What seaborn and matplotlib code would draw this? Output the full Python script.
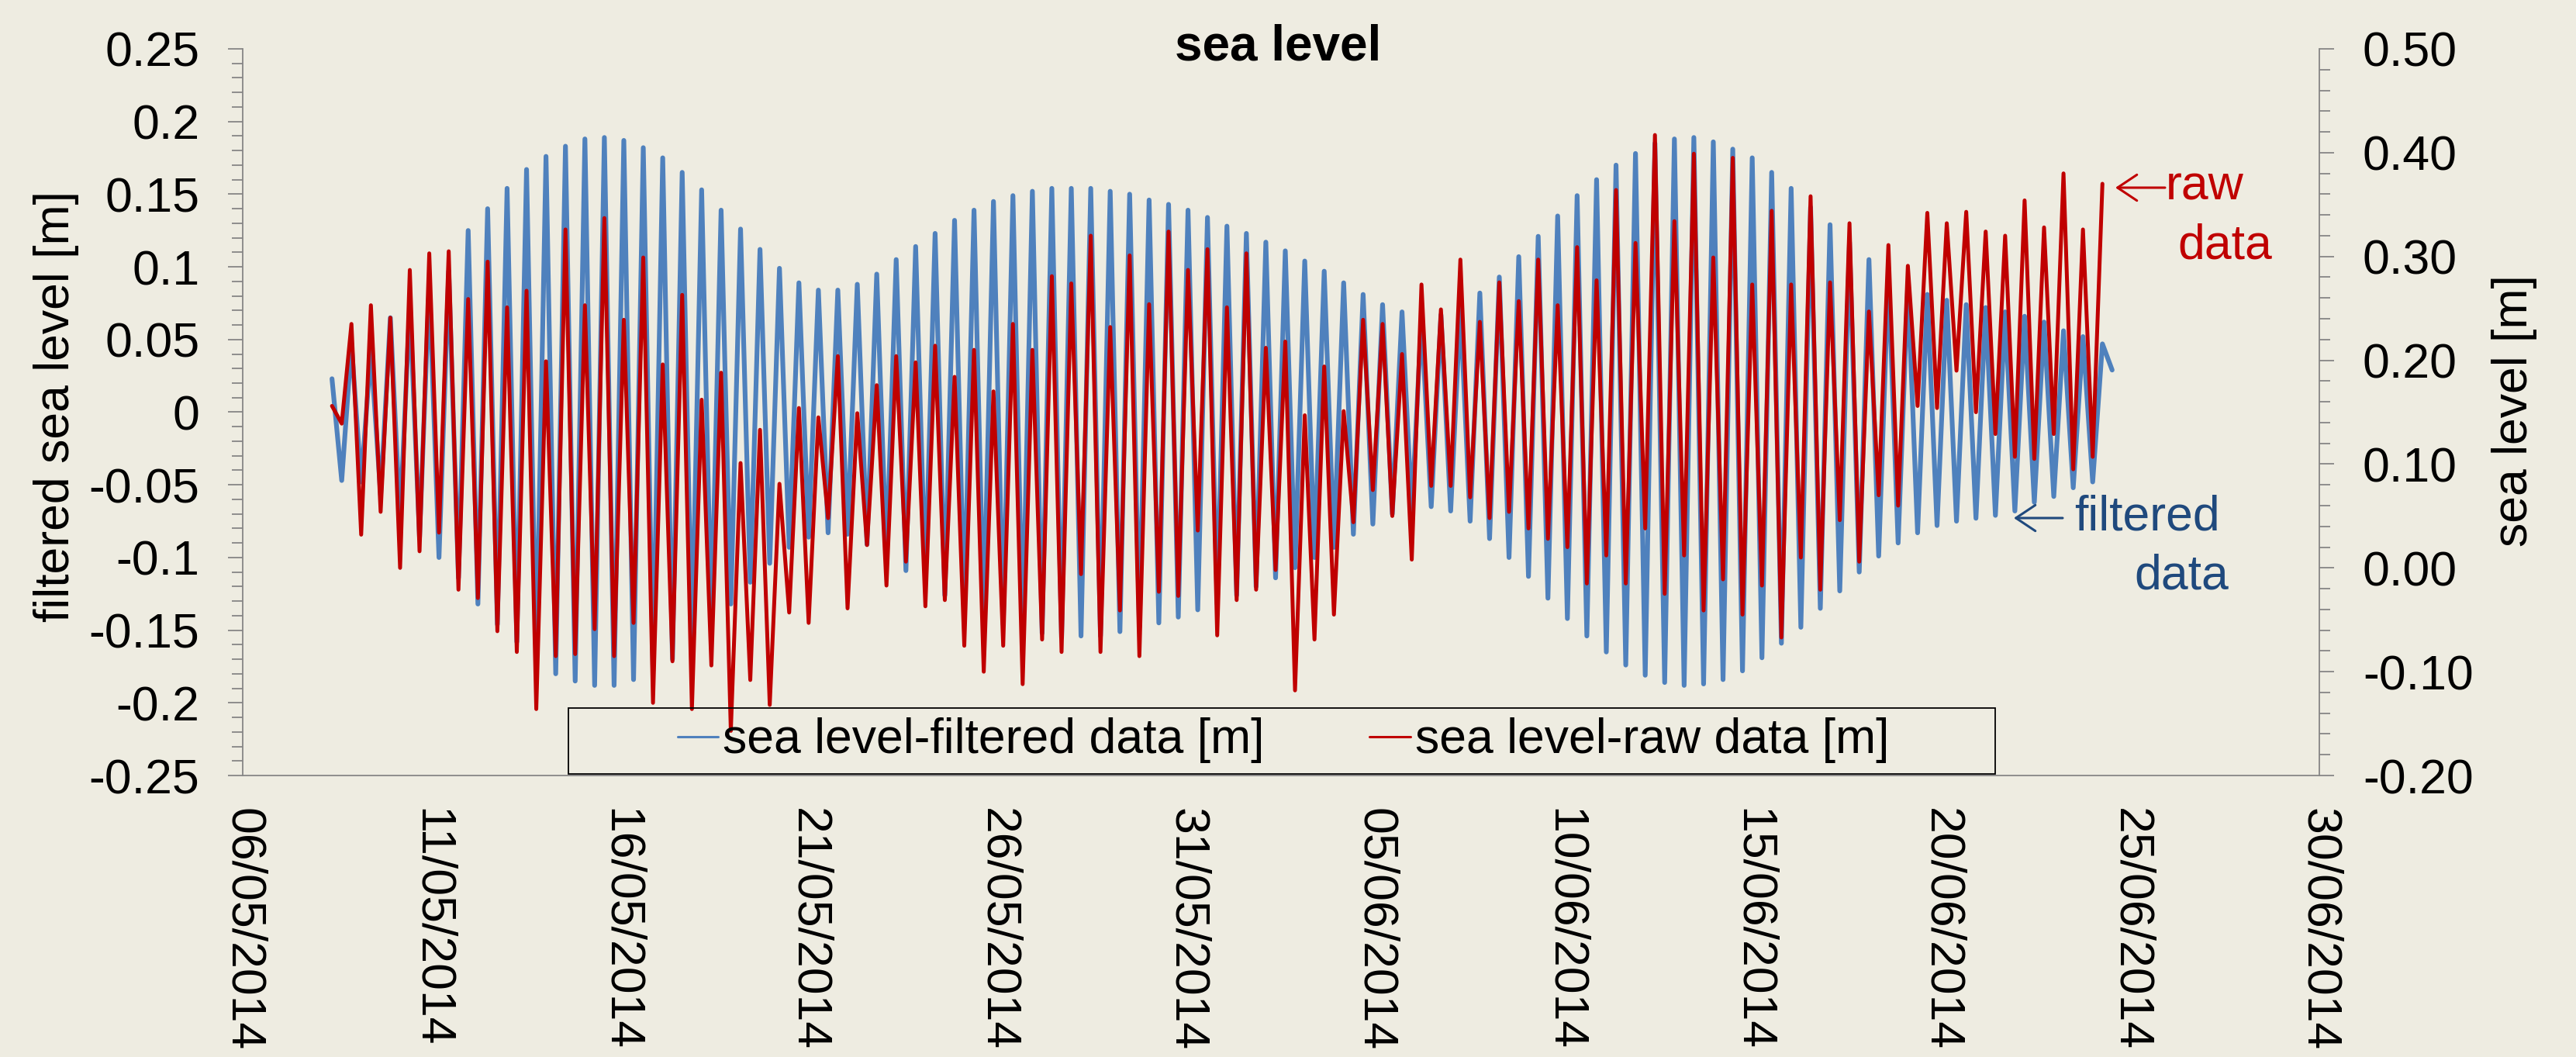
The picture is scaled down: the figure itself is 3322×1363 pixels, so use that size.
import pandas as pd
import matplotlib
matplotlib.use("Agg")
import matplotlib.pyplot as plt
import matplotlib.dates as mdates
from matplotlib.ticker import MultipleLocator, FuncFormatter
from matplotlib.patches import Rectangle, FancyArrowPatch
import seaborn as sns

sns.set_style("white")
plt.rcParams["font.family"] = ["Liberation Sans", "DejaVu Sans"]
plt.rcParams["axes.unicode_minus"] = False
plt.rcParams["text.color"] = "black"

# colours (Excel look)
BG = "#EEECE1"
BLUE = "#4F81BD"
RED = "#C00000"
DARKBLUE = "#1F497D"
AXIS = "#868686"

# successive high / low waters (one value every ~6h11)
start_time = "2014-05-08 08:45"
step = "371min"

# filtered sea level [m] (left axis)
filtered = [
    0.023,
    -0.047, 0.047, -0.048, 0.042, -0.057, 0.065, -0.074, 0.074, -0.086, 0.088,
    -0.100, 0.097, -0.114, 0.125, -0.132, 0.140, -0.146, 0.154, -0.158, 0.167,
    -0.172, 0.176, -0.180, 0.183, -0.185, 0.188, -0.188, 0.189, -0.188, 0.187,
    -0.184, 0.182, -0.178, 0.175,
    -0.170, 0.165, -0.158, 0.153, -0.146, 0.139, -0.132, 0.126, -0.117, 0.112,
    -0.104, 0.099, -0.093, 0.089, -0.086, 0.084, -0.083, 0.084, -0.084, 0.088,
    -0.091, 0.095, -0.100, 0.105, -0.109, 0.114, -0.116, 0.123, -0.126, 0.132,
    -0.135, 0.139, -0.142, 0.145,
    -0.146, 0.149, -0.151, 0.152, -0.152, 0.154, -0.155, 0.154, -0.154, 0.154,
    -0.154, 0.152, -0.151, 0.150, -0.148, 0.146, -0.145, 0.143, -0.141, 0.139,
    -0.136, 0.134, -0.132, 0.128, -0.126, 0.123, -0.120, 0.117, -0.114, 0.111,
    -0.107, 0.104, -0.100, 0.097, -0.093, 0.089,
    -0.084, 0.081, -0.077, 0.074, -0.070, 0.069, -0.068, 0.065, -0.065, 0.067,
    -0.068, 0.072, -0.075, 0.082, -0.087, 0.093, -0.100, 0.107, -0.113, 0.121,
    -0.128, 0.135, -0.142, 0.149, -0.154, 0.160, -0.165, 0.170, -0.174, 0.178,
    -0.181, 0.185, -0.186, 0.188,
    -0.188, 0.189, -0.187, 0.186, -0.184, 0.181, -0.178, 0.175, -0.169, 0.165,
    -0.159, 0.154, -0.148, 0.141, -0.135, 0.129, -0.123, 0.117, -0.110, 0.105,
    -0.099, 0.095, -0.090, 0.088, -0.083, 0.081, -0.078, 0.077, -0.075, 0.074,
    -0.073, 0.072, -0.071, 0.069,
    -0.068, 0.066, -0.062, 0.062, -0.058, 0.056, -0.052, 0.052, -0.048, 0.047,
    0.029,
]

# raw sea level [m] (right axis)
raw = [
    0.156,
    0.139, 0.235, 0.032, 0.253, 0.054, 0.241, -0.000, 0.287, 0.016, 0.303,
    0.034, 0.305, -0.021, 0.259, -0.029, 0.295, -0.061, 0.251, -0.081, 0.267,
    -0.136, 0.199, -0.085, 0.326, -0.083, 0.253, -0.059, 0.337, -0.085, 0.239,
    -0.053, 0.299, -0.130, 0.196,
    -0.090, 0.263, -0.136, 0.162, -0.094, 0.188, -0.157, 0.101, -0.108, 0.133,
    -0.132, 0.081, -0.043, 0.154, -0.053, 0.145, 0.048, 0.204, -0.039, 0.149,
    0.022, 0.176, -0.017, 0.204, 0.006, 0.198, -0.037, 0.214, -0.031, 0.184,
    -0.075, 0.210, -0.100, 0.170,
    -0.075, 0.235, -0.112, 0.210, -0.069, 0.281, -0.081, 0.274, -0.006, 0.320,
    -0.081, 0.232, -0.041, 0.301, -0.085, 0.254, -0.023, 0.324, -0.027, 0.287,
    0.036, 0.307, -0.065, 0.251, -0.031, 0.303, -0.021, 0.212, -0.002, 0.218,
    -0.118, 0.147, -0.069, 0.194, -0.045, 0.151,
    0.044, 0.239, 0.075, 0.235, 0.050, 0.206, 0.008, 0.273, 0.079, 0.249,
    0.079, 0.297, 0.068, 0.237, 0.048, 0.275, 0.054, 0.257, 0.038, 0.297,
    0.028, 0.253, 0.020, 0.309, -0.015, 0.277, 0.012, 0.364, -0.015, 0.313,
    0.038, 0.417, -0.025, 0.334,
    0.012, 0.399, -0.041, 0.299, -0.011, 0.395, -0.045, 0.273, -0.017, 0.344,
    -0.067, 0.273, 0.010, 0.358, -0.021, 0.275, 0.046, 0.332, 0.006, 0.247,
    0.070, 0.311, 0.060, 0.291, 0.156, 0.342, 0.154, 0.332, 0.190, 0.343,
    0.150, 0.324, 0.129, 0.320,
    0.107, 0.354, 0.105, 0.328, 0.129, 0.380, 0.095, 0.326, 0.107, 0.370,
]

times = pd.date_range(start_time, periods=len(filtered), freq=step)
df_filt = pd.DataFrame({"time": times, "level": filtered})
df_raw = pd.DataFrame({"time": times[:len(raw)], "level": raw})

# figure in pixels
W, H = 3322, 1363
L, R, B, T = 313, 2991, 1000, 63
fig = plt.figure(figsize=(W / 100, H / 100), dpi=100, facecolor=BG)
ax = fig.add_axes([L / W, 1 - B / H, (R - L) / W, (B - T) / H])
ax.set_facecolor(BG)
ax2 = ax.twinx()

sns.lineplot(data=df_filt, x="time", y="level", ax=ax, color=BLUE, linewidth=4.4,
             label="sea level-filtered data [m]", legend=False)
sns.lineplot(data=df_raw, x="time", y="level", ax=ax2, color=RED, linewidth=3.6,
             label="sea level-raw data [m]", legend=False)

# x axis: dates
ax.set_xlim(pd.Timestamp("2014-05-06"), pd.Timestamp("2014-06-30"))
ax.set_xticks(pd.date_range("2014-05-06", "2014-06-30", freq="5D"))
ax.xaxis.set_major_formatter(mdates.DateFormatter("%d/%m/%Y"))
ax.xaxis.set_minor_locator(mdates.DayLocator())
ax.tick_params(axis="x", which="both", direction="out", length=9.4, width=1.3,
               color=AXIS, labelcolor="black", labelsize=45, pad=21, labelrotation=-90)

# left axis
ax.set_ylim(-0.25, 0.25)
ax.yaxis.set_major_locator(MultipleLocator(0.05))
ax.yaxis.set_minor_locator(MultipleLocator(0.01))
ax.yaxis.set_major_formatter(FuncFormatter(lambda v, p: f"{round(v, 2) + 0.0:g}"))
ax.tick_params(axis="y", which="major", direction="out", length=13.7, width=1.3,
               color=AXIS, labelcolor="black", labelsize=45, pad=26.5)
ax.tick_params(axis="y", which="minor", direction="out", length=10, width=1.3, color=AXIS)

# right axis
ax2.set_ylim(-0.2, 0.5)
ax2.yaxis.set_major_locator(MultipleLocator(0.1))
ax2.yaxis.set_minor_locator(MultipleLocator(0.02))
ax2.yaxis.set_major_formatter(FuncFormatter(lambda v, p: f"{round(v, 2) + 0.0:.2f}"))
ax2.tick_params(axis="y", which="major", direction="out", length=13.7, width=1.3,
                color=AXIS, labelcolor="black", labelsize=45, pad=26.5)
ax2.tick_params(axis="y", which="minor", direction="out", length=10, width=1.3, color=AXIS)

for a in (ax, ax2):
    a.set_xlabel("")
    a.set_ylabel("")
    for s in a.spines.values():
        s.set_visible(False)
        s.set_color(AXIS)
        s.set_linewidth(1.3)
ax.spines["left"].set_visible(True)
ax.spines["bottom"].set_visible(True)
ax2.spines["right"].set_visible(True)

# titles
fig.text(1648 / W, 1 - 77 / H, "sea level", ha="center", va="baseline",
         fontsize=46, fontweight="bold")
fig.text(73 / W, 1 - 524 / H, "filtered sea level [m]", rotation=90,
         ha="center", va="center", fontsize=45)
fig.text(3243 / W, 1 - 530 / H, "sea level [m]", rotation=90,
         ha="center", va="center", fontsize=45)

# annotations: arrow + text
def note_arrow(x0, x1, y, color):
    fig.add_artist(FancyArrowPatch((x0 / W, 1 - y / H), (x1 / W, 1 - y / H),
                                   transform=fig.transFigure, color=color, lw=2.2,
                                   arrowstyle="->,head_length=0.45,head_width=0.3",
                                   mutation_scale=40, shrinkA=0, shrinkB=0))

note_arrow(2792, 2728, 242, RED)
fig.text(2793 / W, 1 - 258 / H, "raw", color=RED, fontsize=45, va="baseline")
fig.text(2808 / W, 1 - 334 / H, "data", color=RED, fontsize=45, va="baseline")
note_arrow(2660, 2597, 668, DARKBLUE)
fig.text(2675 / W, 1 - 684 / H, "filtered", color=DARKBLUE, fontsize=45, va="baseline")
fig.text(2752 / W, 1 - 760 / H, "data", color=DARKBLUE, fontsize=45, va="baseline")

# legend with its own frame
handles = [ax.get_lines()[0], ax2.get_lines()[0]]
leg = ax2.legend(handles=handles, labels=[h.get_label() for h in handles],
                 loc="center", bbox_to_anchor=(1655 / W, 1 - 955 / H),
                 bbox_transform=fig.transFigure, ncol=2, frameon=False,
                 fontsize=45, handlelength=0.84, handletextpad=0.1,
                 columnspacing=2.16, borderpad=0, borderaxespad=0)
for h in leg.legend_handles:
    h.set_linewidth(2.2)
fig.add_artist(Rectangle((733 / W, 1 - 998 / H), (2573 - 733) / W, (998 - 913) / H,
                         transform=fig.transFigure, fill=False, ec="black", lw=1.3))

fig.savefig("out.png", dpi=100, facecolor=BG)
